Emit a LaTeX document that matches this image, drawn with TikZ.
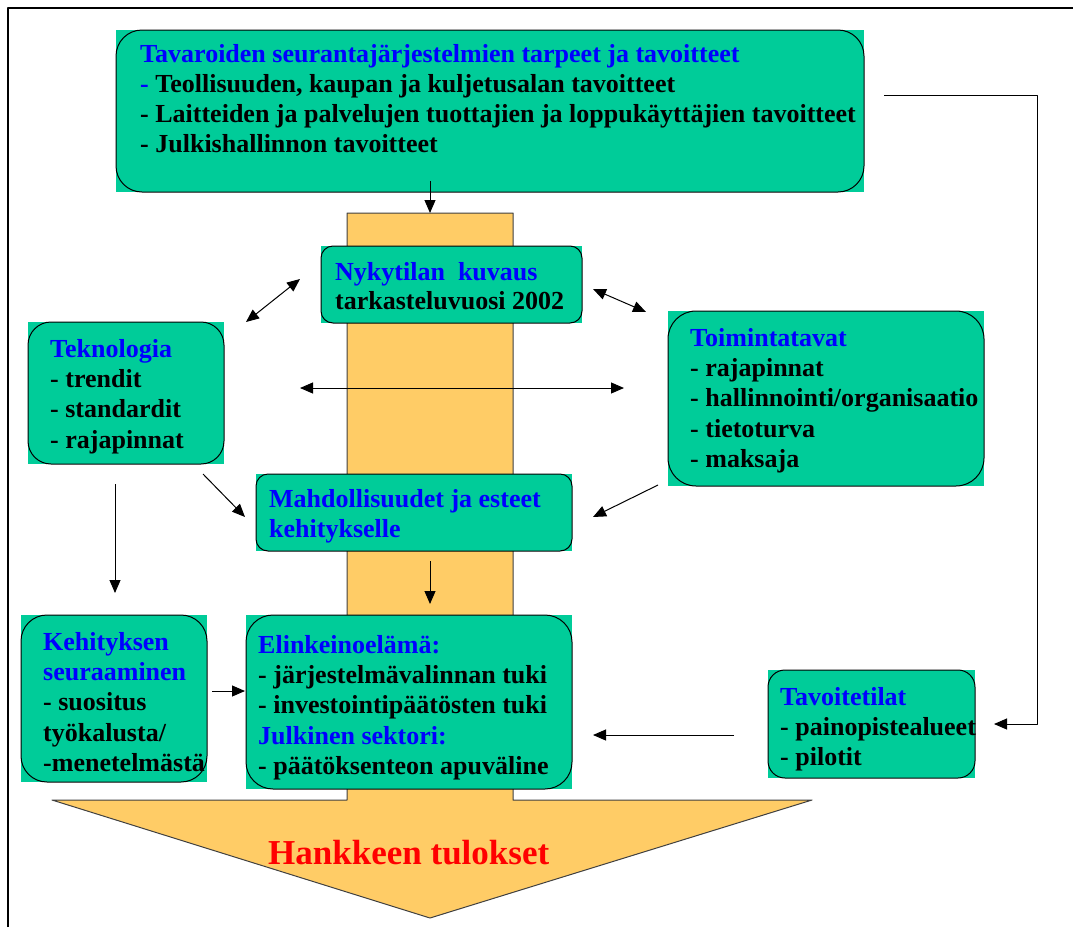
\documentclass[tikz,border=0pt]{standalone}
\usepackage{fontspec}
\setmainfont{Liberation Serif}
\usetikzlibrary{arrows.meta}
\definecolor{gfill}{RGB}{0,204,153}
\definecolor{ofill}{RGB}{255,204,102}
\definecolor{tblue}{RGB}{0,0,255}
\definecolor{tred}{RGB}{255,0,0}
\newcommand\greenbox[6]{%
  \fill[gfill] (#2,#3) rectangle (#4,#5);
  \node[rbox, rounded corners=#6pt, minimum width={(#4)-(#2)}, minimum height={(#5)-(#3)}] (#1) at ({((#2)+(#4))/2},{((#3)+(#5))/2}) {};
}
\begin{document}
\begin{tikzpicture}[x=1pt, y=-1pt, line join=round,
  rbox/.style={draw=black, line width=1pt, inner sep=0pt, outer sep=0pt},
  txt/.style={anchor=north west, inner sep=0pt, align=left, font=\bfseries\fontsize{26}{30.3}\selectfont},
  arr/.style={line width=1pt, -{Triangle[length=13pt,width=11pt]}},
  darr/.style={line width=1pt, {Triangle[length=13pt,width=11pt]}-{Triangle[length=13pt,width=11pt]}}]
\useasboundingbox (0,0) rectangle (1073,927);
% frame
\draw[line width=2pt] (8,927) -- (8,8) -- (1073,8);
% orange bar + arrow
\draw[fill=ofill, draw=black!75, line width=1pt] (347,213) -- (347,800) -- (52,800) -- (430,918) -- (812,800) -- (513,800) -- (513,213) -- cycle;
\node[anchor=base west, inner sep=0pt, font=\bfseries\fontsize{35}{40}\selectfont, text=tred] (res) at (268,864) {Hankkeen tulokset};
% green boxes
\greenbox{top}{116}{30}{864}{192}{26}
\greenbox{nyky}{321}{246}{582}{323}{12}
\greenbox{tekn}{28}{322}{224}{464}{23}
\greenbox{toim}{668}{311}{984}{486}{28}
\greenbox{mahd}{256}{474}{572}{551}{12}
\greenbox{keht}{21}{615}{207}{782}{26}
\greenbox{elink}{246}{615}{572}{789}{27}
\greenbox{tavoit}{768}{670}{975}{778}{17}
% texts
\node[txt] (ttop) at (140,42) {\rule{0pt}{20pt}\textcolor{tblue}{Tavaroiden seurantajärjestelmien tarpeet ja tavoitteet}\\[-0.3pt]
\textcolor{tblue}{-} Teollisuuden, kaupan ja kuljetusalan tavoitteet\\[-0.3pt]
- Laitteiden ja palvelujen tuottajien ja loppukäyttäjien tavoitteet\\[-0.3pt]
- Julkishallinnon tavoitteet};
\node[txt, font=\bfseries\fontsize{26}{29}\selectfont] (tnyky) at (335,260) {\rule{0pt}{20pt}\textcolor{tblue}{Nykytilan\ \ kuvaus}\\
tarkasteluvuosi 2002};
\node[txt] (ttekn) at (50,337) {\rule{0pt}{20pt}\textcolor{tblue}{Teknologia}\\
- trendit\\
- standardit\\
- rajapinnat};
\node[txt] (ttoim) at (690,326) {\rule{0pt}{20pt}\textcolor{tblue}{Toimintatavat}\\
- rajapinnat\\
- hallinnointi/organisaatio\\
- tietoturva\\
- maksaja};
\node[txt] (tmahd) at (269,487) {\rule{0pt}{20pt}\textcolor{tblue}{Mahdollisuudet ja esteet}\\
\textcolor{tblue}{kehitykselle}};
\node[txt] (tkeht) at (43,630) {\rule{0pt}{20pt}\textcolor{tblue}{Kehityksen}\\
\textcolor{tblue}{seuraaminen}\\
- suositus\\
työkalusta/\\
-menetelmästä};
\node[txt] (telink) at (258,633) {\rule{0pt}{20pt}\textcolor{tblue}{Elinkeinoelämä:}\\
- järjestelmävalinnan tuki\\
- investointipäätösten tuki\\
\textcolor{tblue}{Julkinen sektori:}\\
- päätöksenteon apuväline};
\node[txt] (ttavoit) at (780,685) {\rule{0pt}{20pt}\textcolor{tblue}{Tavoitetilat}\\
- painopistealueet\\
- pilotit};
% connector end points
\coordinate (a1s) at (430,181); \coordinate (a1e) at (430,213);
\coordinate (a2s) at (246,322); \coordinate (a2e) at (300,279);
\coordinate (a3s) at (593,289); \coordinate (a3e) at (646,312);
\coordinate (a4s) at (300,388); \coordinate (a4e) at (624,388);
\coordinate (a5s) at (203,474); \coordinate (a5e) at (245,517);
\coordinate (a6s) at (658,485); \coordinate (a6e) at (593,517);
\coordinate (a7s) at (115,484); \coordinate (a7e) at (115,593);
\coordinate (a8s) at (430,561); \coordinate (a8e) at (430,604);
\coordinate (a9s) at (212,691); \coordinate (a9e) at (245,691);
\coordinate (a10s) at (734,735); \coordinate (a10e) at (593,735);
\coordinate (a11s) at (884,95); \coordinate (a11c) at (1037,95); \coordinate (a11d) at (1037,724); \coordinate (a11e) at (994,724);
% connectors
\draw[arr] (a1s) -- (a1e);
\draw[darr] (a2s) -- (a2e);
\draw[darr] (a3s) -- (a3e);
\draw[darr] (a4s) -- (a4e);
\draw[arr] (a5s) -- (a5e);
\draw[arr] (a6s) -- (a6e);
\draw[arr] (a7s) -- (a7e);
\draw[arr] (a8s) -- (a8e);
\draw[arr] (a9s) -- (a9e);
\draw[arr] (a10s) -- (a10e);
\draw[arr] (a11s) -- (a11c) -- (a11d) -- (a11e);
\end{tikzpicture}
\end{document}
